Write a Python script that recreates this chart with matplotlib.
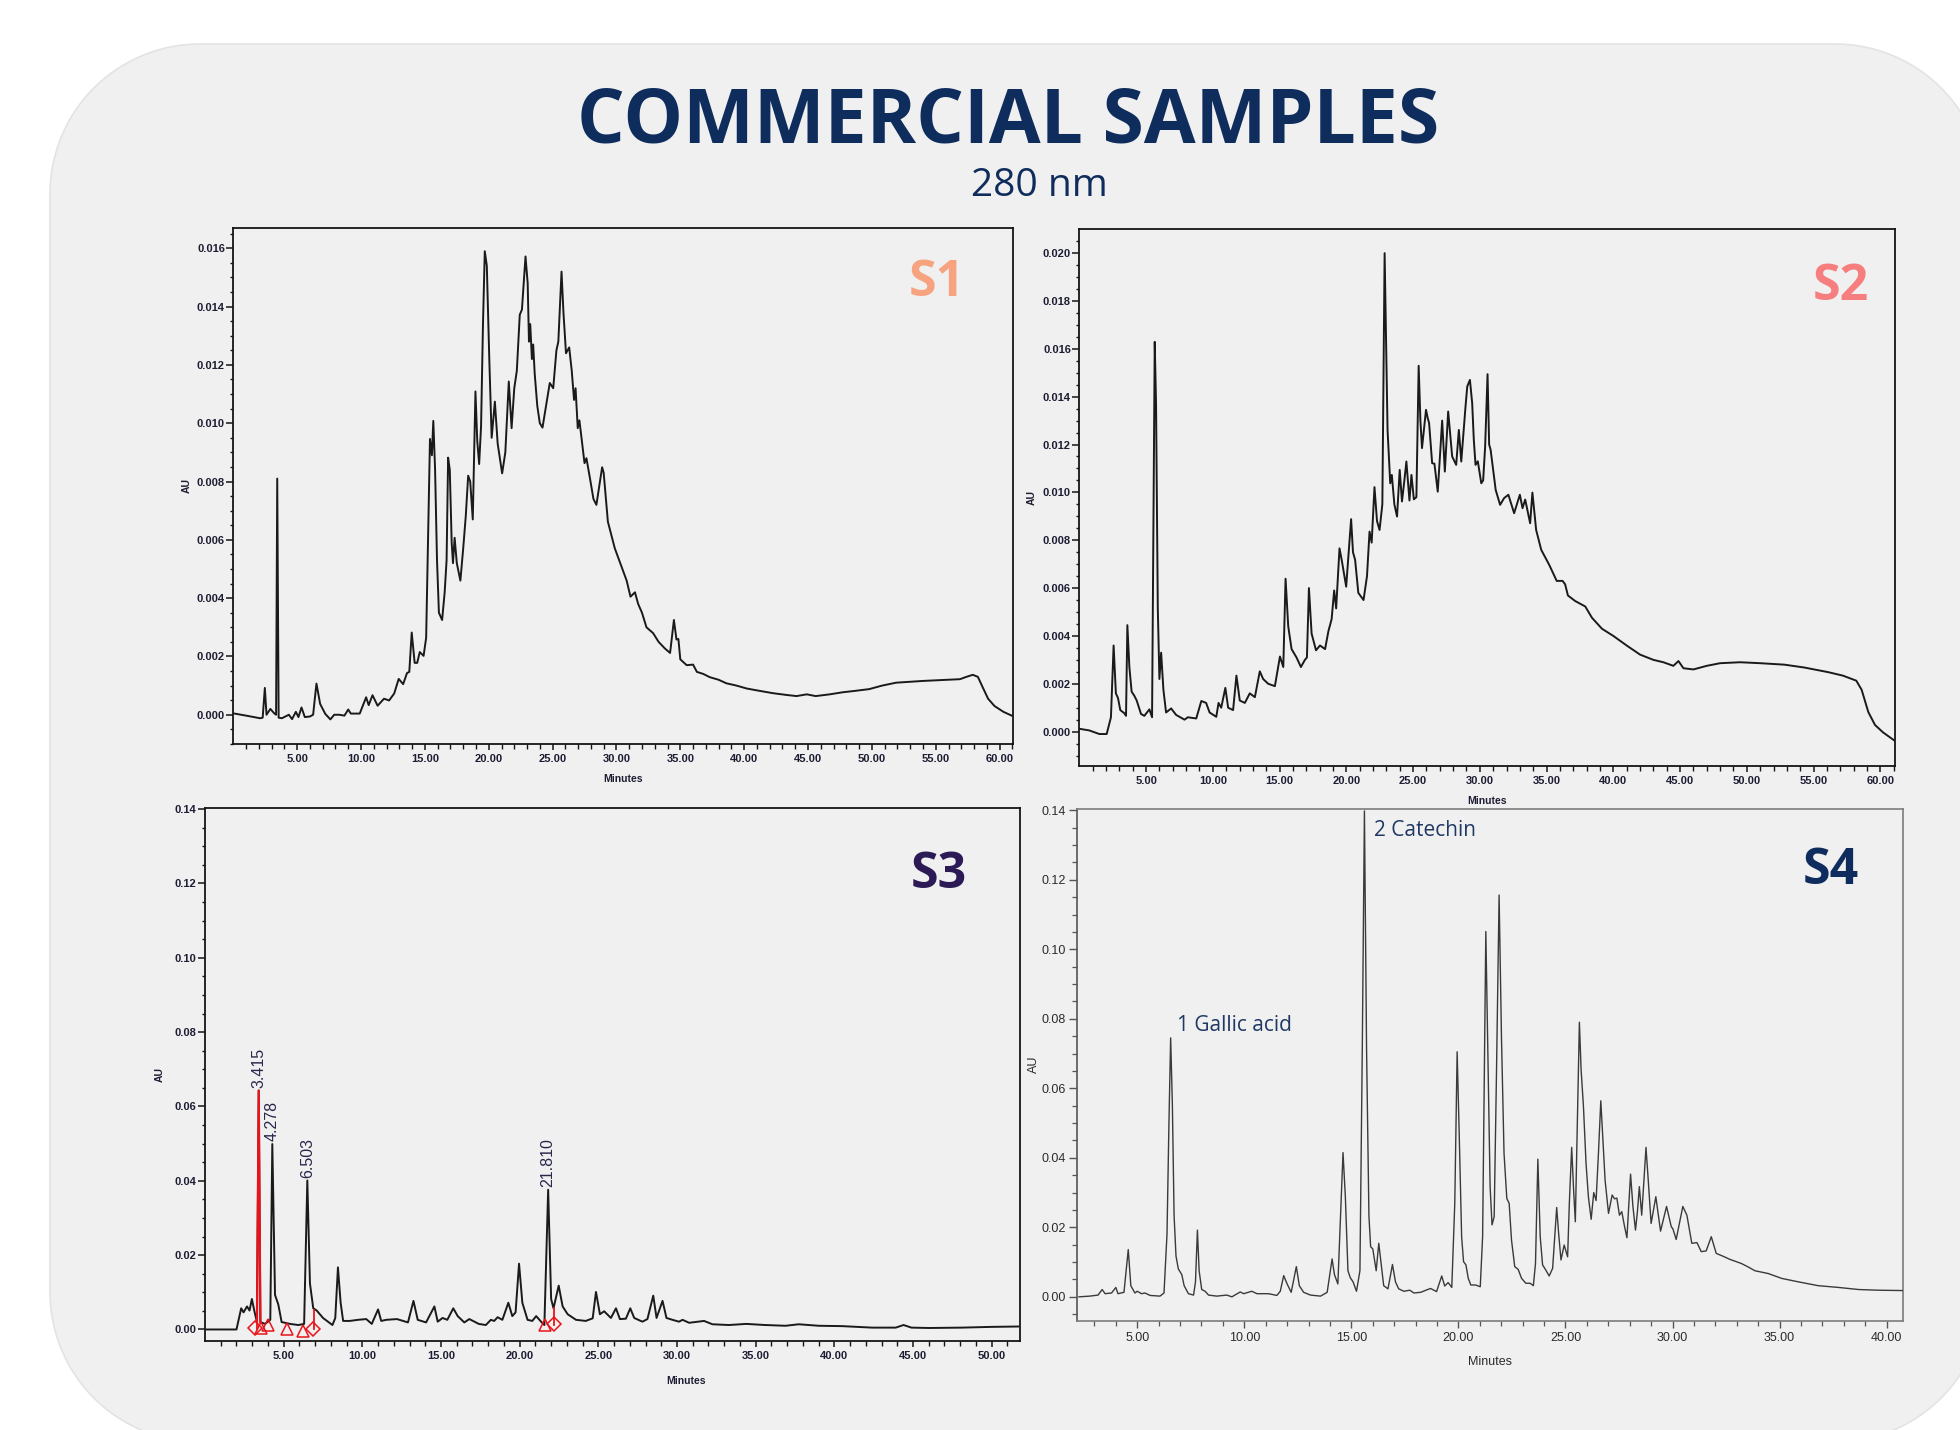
import numpy as np
import matplotlib
matplotlib.use("Agg")
import matplotlib.pyplot as plt
from matplotlib.path import Path
from matplotlib.patches import PathPatch
from matplotlib.ticker import FixedLocator, FormatStrFormatter

# ---------------- data ----------------
s1_time = [0.1, 1.0, 2.1, 2.3, 2.47, 2.6, 2.9, 3.2, 3.35, 3.44, 3.55, 3.8, 4.35, 4.6, 4.9, 5.1, 5.34, 5.6,
           6.0, 6.25, 6.51, 6.8, 7.2, 7.6, 7.9, 8.3, 8.7, 9.0, 9.2, 9.9, 10.4, 10.6, 10.9, 11.3, 11.8,
           12.2, 12.6, 12.95, 13.3, 13.6, 13.78, 13.97, 14.2, 14.4, 14.6, 14.9, 15.1, 15.3, 15.4, 15.55,
           15.66, 15.8, 15.95, 16.1, 16.35, 16.55, 16.7, 16.82, 16.95, 17.1, 17.2, 17.33, 17.5, 17.78,
           18.0, 18.2, 18.39, 18.55, 18.75, 18.96, 19.1, 19.25, 19.4, 19.55, 19.69, 19.85, 20.05, 20.23,
           20.48, 20.7, 21.05, 21.3, 21.57, 21.79, 22.0, 22.2, 22.43, 22.6, 22.88, 23.05, 23.15, 23.25,
           23.38, 23.48, 23.6, 23.8, 24.0, 24.21, 24.45, 24.78, 25.05, 25.3, 25.45, 25.7, 25.85, 26.05,
           26.3, 26.5, 26.68, 26.8, 26.97, 27.1, 27.5, 27.65, 27.95, 28.2, 28.43, 28.88, 29.0, 29.33,
           29.87, 30.3, 30.8, 31.1, 31.45, 31.7, 32.0, 32.35, 32.87, 33.3, 33.8, 34.2, 34.5, 34.7, 34.85,
           35.0, 35.5, 36.0, 36.3, 36.8, 37.3, 38.0, 38.6, 39.4, 40.2, 41.2, 42.25, 43.3, 44.1, 44.9,
           45.6, 46.7, 47.7, 48.7, 49.8, 50.8, 51.9, 53.0, 54.0, 55.0, 56.1, 56.9, 57.4, 57.9, 58.3,
           58.7, 59.1, 59.6, 60.3, 61.0]
s1_au = [0.00004, -0.00003, -0.00012, -0.0001, 0.00092, 0.0, 0.0002, 0.00005, 0.0, 0.0081, -0.0001,
         -0.00012, 0.0, -0.00015, 0.0001, -0.00008, 0.00025, -0.00008, -0.00006, 0.0, 0.00107, 0.00037,
         0.00003, -0.00016, 0.0, 0.0, -0.00003, 0.00018, 0.00004, 0.00004, 0.0006, 0.00033, 0.00067,
         0.00031, 0.00055, 0.00049, 0.00073, 0.00123, 0.00105, 0.00143, 0.00147, 0.00282, 0.00178,
         0.00178, 0.00215, 0.00202, 0.00264, 0.00717, 0.00946, 0.0089, 0.01008, 0.0084, 0.0053, 0.0035,
         0.00325, 0.0042, 0.0053, 0.00882, 0.0084, 0.0059, 0.0052, 0.00607, 0.0052, 0.0046, 0.0057,
         0.0068, 0.0082, 0.0080, 0.0067, 0.01109, 0.0094, 0.0086, 0.0099, 0.0134, 0.0159, 0.0154,
         0.0121, 0.0095, 0.01074, 0.0093, 0.00828, 0.0090, 0.01143, 0.00983, 0.0112, 0.0118, 0.01372,
         0.0139, 0.01572, 0.0148, 0.0128, 0.0134, 0.0122, 0.0127, 0.0117, 0.0106, 0.0100, 0.00985,
         0.0105, 0.01138, 0.0112, 0.0125, 0.0128, 0.0152, 0.0138, 0.0124, 0.0126, 0.0118, 0.0108,
         0.0112, 0.00983, 0.0101, 0.00863, 0.0088, 0.00805, 0.0074, 0.0072, 0.00849, 0.0083, 0.00662,
         0.00571, 0.0052, 0.0046, 0.00405, 0.0042, 0.0038, 0.0035, 0.0030, 0.0028, 0.0025, 0.00227,
         0.00212, 0.00325, 0.00258, 0.0026, 0.0019, 0.0017, 0.00172, 0.00147, 0.0014, 0.00129, 0.0012,
         0.00108, 0.0010, 0.0009, 0.00082, 0.00074, 0.00068, 0.00064, 0.0007, 0.00064, 0.0007, 0.00077,
         0.00082, 0.00088, 0.0010, 0.0011, 0.00113, 0.00116, 0.00118, 0.0012, 0.00122, 0.0013, 0.00137,
         0.0013, 0.00092, 0.00055, 0.0003, 0.0001, -0.00004]

s2_time = [0.0, 0.75, 1.5, 2.05, 2.37, 2.57, 2.74, 2.9, 3.07, 3.37, 3.5, 3.6, 3.75, 3.92, 4.12, 4.3, 4.62,
           4.87, 5.25, 5.45, 5.65, 5.75, 5.88, 6.0, 6.13, 6.3, 6.5, 6.88, 7.25, 7.88, 8.13, 8.76, 9.14,
           9.5, 9.76, 10.26, 10.43, 10.63, 10.94, 11.15, 11.52, 11.77, 12.02, 12.4, 12.77, 13.15, 13.52,
           13.77, 14.15, 14.65, 15.03, 15.28, 15.45, 15.65, 15.9, 16.27, 16.6, 16.9, 17.05, 17.2, 17.4,
           17.73, 18.03, 18.41, 18.66, 18.9, 19.09, 19.24, 19.49, 19.66, 19.99, 20.36, 20.5, 20.66, 20.9,
           21.29, 21.55, 21.74, 21.9, 22.11, 22.3, 22.49, 22.7, 22.87, 23.0, 23.09, 23.29, 23.41, 23.6,
           23.8, 24.0, 24.17, 24.35, 24.5, 24.73, 24.88, 25.06, 25.25, 25.42, 25.55, 25.67, 25.97, 26.1,
           26.2, 26.43, 26.6, 26.85, 27.18, 27.38, 27.63, 27.93, 28.23, 28.43, 28.61, 28.93, 29.06, 29.26,
           29.43, 29.55, 29.68, 29.85, 30.11, 30.25, 30.4, 30.58, 30.7, 30.81, 31.19, 31.52, 31.82, 32.14,
           32.57, 33.0, 33.2, 33.4, 33.77, 33.94, 34.22, 34.6, 35.2, 35.76, 36.2, 36.39, 36.6, 37.14, 37.9,
           38.4, 39.15, 40.0, 41.0, 42.0, 43.0, 43.75, 44.5, 44.88, 45.25, 46.0, 47.0, 48.0, 49.5, 51.0,
           52.8, 54.3, 56.06, 57.2, 58.2, 58.6, 59.1, 59.6, 60.2, 61.1]
s2_au = [0.00012, 0.00005, -0.0001, -0.0001, 0.0006, 0.0036, 0.0016, 0.0014, 0.0009, 0.00077, 0.00066,
         0.00445, 0.0027, 0.00167, 0.0015, 0.0013, 0.00074, 0.00066, 0.00093, 0.0006, 0.01629, 0.01366,
         0.00515, 0.0022, 0.0033, 0.00175, 0.0008, 0.00097, 0.0007, 0.0005, 0.0006, 0.00055, 0.00128,
         0.0012, 0.0008, 0.00062, 0.0012, 0.0010, 0.00183, 0.0010, 0.0009, 0.00234, 0.0013, 0.0012,
         0.0016, 0.00144, 0.00252, 0.0022, 0.0020, 0.0019, 0.00314, 0.0027, 0.00639, 0.0044, 0.00345,
         0.0031, 0.0027, 0.0030, 0.0031, 0.0060, 0.0041, 0.0034, 0.0036, 0.00345, 0.0042, 0.0047,
         0.0059, 0.00515, 0.00766, 0.00716, 0.00606, 0.00888, 0.0075, 0.00718, 0.0058, 0.0055, 0.0065,
         0.00836, 0.0079, 0.01022, 0.0088, 0.00843, 0.0095, 0.0200, 0.0155, 0.0126, 0.01038, 0.01073,
         0.0095, 0.00899, 0.01094, 0.00962, 0.0105, 0.01129, 0.00966, 0.01073, 0.00971, 0.0098, 0.01529,
         0.0130, 0.01185, 0.01345, 0.0131, 0.0129, 0.01122, 0.0112, 0.01003, 0.0130, 0.01087, 0.01338,
         0.0115, 0.01115, 0.01261, 0.01129, 0.01359, 0.01443, 0.0147, 0.01372, 0.0122, 0.01115, 0.0113,
         0.01038, 0.0105, 0.01192, 0.01494, 0.0120, 0.01178, 0.0101, 0.00948, 0.00976, 0.0099, 0.00913,
         0.0099, 0.00934, 0.0097, 0.00871, 0.00999, 0.00843, 0.0076, 0.00697, 0.0063, 0.0063, 0.00616,
         0.00569, 0.00546, 0.00523, 0.00476, 0.0043, 0.0040, 0.0036, 0.00322, 0.0030, 0.0029, 0.00275,
         0.00295, 0.00265, 0.0026, 0.00275, 0.00286, 0.0029, 0.00286, 0.0028, 0.00268, 0.00249, 0.00234,
         0.00213, 0.00175, 0.00082, 0.00028, -0.00003, -0.00039]

s3_time = [0.09, 2.0, 2.3, 2.45, 2.67, 2.83, 2.98, 3.13, 3.3, 3.415, 3.52, 3.82, 4.15, 4.278, 4.45, 4.66,
           4.87, 5.4, 5.93, 6.3, 6.503, 6.67, 6.88, 7.1, 7.5, 8.1, 8.28, 8.45, 8.62, 8.78, 9.2, 9.73,
           10.25, 10.6, 11.0, 11.2, 11.52, 12.2, 12.9, 13.25, 13.52, 14.05, 14.58, 14.79, 15.1, 15.4,
           15.78, 16.06, 16.48, 16.8, 17.4, 17.85, 18.17, 18.38, 18.6, 18.9, 19.28, 19.53, 19.74, 19.96,
           20.17, 20.5, 20.8, 21.05, 21.36, 21.57, 21.81, 22.0, 22.15, 22.48, 22.73, 23.05, 23.58, 24.2,
           24.64, 24.85, 25.1, 25.37, 25.8, 26.12, 26.37, 26.75, 27.03, 27.28, 27.8, 28.12, 28.49, 28.7,
           29.08, 29.33, 29.71, 30.13, 30.35, 30.77, 31.72, 32.25, 33.3, 34.4, 35.6, 36.9, 37.74, 39.0,
           40.5, 42.4, 43.9, 44.4, 44.9, 46.0, 48.1, 50.0, 51.7]
s3_au = [0.0, 0.0, 0.0057, 0.0046, 0.0062, 0.0051, 0.0082, 0.0051, 0.0020, 0.0643, 0.0020, 0.0015,
         0.0026, 0.0499, 0.0093, 0.0067, 0.0020, 0.0015, 0.0012, 0.0015, 0.0401, 0.0124, 0.0057, 0.0051,
         0.0031, 0.0012, 0.0031, 0.0167, 0.0072, 0.0023, 0.0023, 0.0026, 0.0028, 0.0015, 0.0054, 0.0023,
         0.0026, 0.0028, 0.0019, 0.0077, 0.0026, 0.0019, 0.0062, 0.0021, 0.0031, 0.0026, 0.0057, 0.0036,
         0.0019, 0.0028, 0.0015, 0.0012, 0.0026, 0.0023, 0.0033, 0.0026, 0.0072, 0.0036, 0.0046, 0.0177,
         0.0072, 0.0026, 0.0023, 0.0036, 0.0021, 0.0012, 0.0376, 0.0082, 0.0057, 0.0118, 0.0062, 0.0041,
         0.0026, 0.0023, 0.0030, 0.0101, 0.0041, 0.0049, 0.0031, 0.0057, 0.0028, 0.0029, 0.0057, 0.0031,
         0.0021, 0.0028, 0.0091, 0.0031, 0.0077, 0.0031, 0.0026, 0.0021, 0.0026, 0.0018, 0.0023, 0.0014,
         0.0012, 0.0015, 0.0012, 0.0010, 0.0014, 0.0010, 0.0009, 0.0005, 0.0005, 0.0012, 0.0005, 0.0004,
         0.0005, 0.0007, 0.0008]
# labelled (integrated) peaks of S3
s3_peak_rt = [3.415, 4.278, 6.503, 21.810]
s3_peak_au = [0.0643, 0.0499, 0.0401, 0.0376]
# integration event markers of S3 (time, AU, marker)
s3_mark_time = [3.15, 3.55, 3.98, 5.20, 6.21, 6.89, 21.58, 22.17]
s3_mark_au = [0.0003, 0.0003, 0.0012, 0.0000, -0.0005, 0.0000, 0.0012, 0.0015]
s3_mark_kind = ["D", "^", "^", "^", "^", "D", "^", "D"]
s3_drop_time = [3.30, 6.90, 22.20]
s3_drop_low = [0.0000, 0.0000, 0.0012]
s3_drop_high = [0.0090, 0.0052, 0.0057]

s4_time = [2.28, 2.78, 3.17, 3.36, 3.5, 3.8, 4.0, 4.1, 4.38, 4.58, 4.7, 4.89, 5.0, 5.2, 5.36, 5.6, 6.06,
           6.25, 6.39, 6.48, 6.56, 6.64, 6.72, 6.81, 6.92, 7.08, 7.19, 7.39, 7.63, 7.72, 7.81, 7.89, 8.01,
           8.17, 8.33, 8.71, 9.18, 9.42, 9.81, 9.97, 10.35, 10.59, 11.13, 11.52, 11.68, 11.84, 12.0, 12.19,
           12.43, 12.57, 12.77, 13.09, 13.56, 13.87, 14.1, 14.21, 14.37, 14.61, 14.72, 14.84, 14.95, 15.08,
           15.24, 15.4, 15.51, 15.61, 15.71, 15.82, 15.9, 16.0, 16.16, 16.28, 16.39, 16.51, 16.71, 16.92,
           17.06, 17.21, 17.45, 17.73, 17.92, 18.24, 18.48, 18.7, 18.98, 19.22, 19.36, 19.52, 19.69, 19.83,
           19.94, 20.04, 20.15, 20.24, 20.35, 20.46, 20.58, 20.8, 21.02, 21.13, 21.28, 21.39, 21.48, 21.57,
           21.67, 21.78, 21.9, 22.01, 22.13, 22.26, 22.37, 22.48, 22.63, 22.79, 22.95, 23.15, 23.35, 23.5,
           23.6, 23.71, 23.82, 23.93, 24.08, 24.24, 24.4, 24.59, 24.68, 24.79, 24.94, 25.1, 25.18, 25.29,
           25.38, 25.46, 25.54, 25.65, 25.73, 25.84, 25.96, 26.07, 26.2, 26.32, 26.43, 26.54, 26.65, 26.74,
           26.85, 27.01, 27.18, 27.29, 27.4, 27.52, 27.63, 27.76, 27.87, 27.96, 28.04, 28.15, 28.27, 28.36,
           28.45, 28.56, 28.66, 28.76, 28.85, 29.0, 29.22, 29.44, 29.72, 29.94, 30.02, 30.17, 30.48, 30.67,
           30.9, 31.14, 31.34, 31.57, 31.81, 32.04, 32.35, 32.67, 32.98, 33.21, 33.5, 33.85, 34.47, 35.1,
           35.88, 36.81, 37.75, 38.69, 39.62, 40.79]
s4_au = [0.0, 0.0002, 0.0005, 0.0021, 0.0009, 0.0011, 0.0027, 0.0009, 0.0013, 0.0136, 0.0032, 0.0011,
         0.0016, 0.0009, 0.0011, 0.0004, 0.0002, 0.0011, 0.0181, 0.0500, 0.0745, 0.0554, 0.0234, 0.0117,
         0.0080, 0.0064, 0.0032, 0.0009, 0.0005, 0.0043, 0.0192, 0.0075, 0.0021, 0.0016, 0.0005, 0.0002,
         0.0005, 0.0, 0.0014, 0.0009, 0.0016, 0.0009, 0.0009, 0.0004, 0.0016, 0.0061, 0.0037, 0.0013,
         0.0087, 0.0032, 0.0013, 0.0005, 0.0002, 0.0013, 0.0109, 0.0064, 0.0037, 0.0415, 0.0287, 0.0075,
         0.0055, 0.0043, 0.0016, 0.0075, 0.0713, 0.1398, 0.0713, 0.0234, 0.0144, 0.0138, 0.0075, 0.0154,
         0.0096, 0.0032, 0.0023, 0.0093, 0.0043, 0.0023, 0.0016, 0.0019, 0.0011, 0.0013, 0.0019, 0.0024,
         0.0015, 0.0060, 0.0031, 0.0041, 0.0027, 0.0269, 0.0705, 0.0461, 0.0173, 0.0101, 0.0092, 0.0053,
         0.0034, 0.0034, 0.0029, 0.0173, 0.1051, 0.0653, 0.0317, 0.0207, 0.0231, 0.0653, 0.1156, 0.0749,
         0.0413, 0.0283, 0.0269, 0.0163, 0.0087, 0.0079, 0.0053, 0.0039, 0.0039, 0.0032, 0.0096, 0.0396,
         0.0173, 0.0092, 0.0077, 0.0060, 0.0082, 0.0257, 0.0183, 0.0106, 0.0149, 0.0115, 0.0269, 0.0430,
         0.0307, 0.0216, 0.0461, 0.0790, 0.0653, 0.0547, 0.0384, 0.0288, 0.0223, 0.0300, 0.0277, 0.0413,
         0.0564, 0.0461, 0.0336, 0.0240, 0.0293, 0.0282, 0.0284, 0.0235, 0.0245, 0.0202, 0.0170, 0.0269,
         0.0353, 0.0260, 0.0192, 0.0245, 0.0317, 0.0235, 0.0330, 0.0430, 0.0350, 0.0211, 0.0288, 0.0189,
         0.0260, 0.0202, 0.0195, 0.0165, 0.0260, 0.0235, 0.0154, 0.0156, 0.0130, 0.0132, 0.0173, 0.0125,
         0.0117, 0.0108, 0.0101, 0.0096, 0.0087, 0.0075, 0.0067, 0.0053, 0.0043, 0.0032, 0.0027, 0.0021,
         0.0019, 0.0018]
s4_names = ["1 Gallic acid", "2 Catechin"]
s4_name_rt = [6.56, 15.61]
s4_name_au = [0.0745, 0.1398]

panel_names = ["S1", "S2", "S3", "S4"]
panel_colors = ["#F8A380", "#F77E7E", "#2C1A56", "#0E2D5E"]
title_text = "COMMERCIAL SAMPLES"
subtitle_text = "280 nm"

# ---------------- figure ----------------
W, H = 1960, 1430
fig = plt.figure(figsize=(W / 100, H / 100), dpi=100)
fig.patch.set_facecolor("white")


def rounded_panel(x0, y0, x1, y1, r, n=40):
    pts = []
    corners = [((x1 - r, y0 + r), -90, 0), ((x1 - r, y1 - r), 0, 90),
               ((x0 + r, y1 - r), 90, 180), ((x0 + r, y0 + r), 180, 270)]
    for (cx, cy), a0, a1 in corners:
        a = np.radians(np.linspace(a0, a1, n))
        for ai in a:
            pts.append((cx + r * np.cos(ai), cy + r * np.sin(ai)))
    pts.append(pts[0])
    pts = [(px / W, 1 - py / H) for px, py in pts]
    codes = [Path.MOVETO] + [Path.LINETO] * (len(pts) - 2) + [Path.CLOSEPOLY]
    return Path(pts, codes)


bg = PathPatch(rounded_panel(50, 44, 1985, 1442, 150), transform=fig.transFigure,
               facecolor="#f0f0f0", edgecolor="#e3e3e3", lw=1.2, zorder=-10)
fig.add_artist(bg)

NAVY = "#0F2D5C"
fig.text(1008 / W, 1 - 123 / H, title_text, ha="center", va="center", fontsize=54,
         fontweight="bold", family=["Open Sans", "DejaVu Sans"], color=NAVY)
fig.text(1039 / W, 1 - 186 / H, subtitle_text, ha="center", va="center", fontsize=28,
         family=["Open Sans", "DejaVu Sans"], color=NAVY)


def add_axes(box):
    x0, y0, x1, y1 = box
    ax = fig.add_axes([x0 / W, 1 - y1 / H, (x1 - x0) / W, (y1 - y0) / H])
    ax.set_zorder(2)
    return ax


TF = ["Liberation Sans", "DejaVu Sans"]


def style_empower(ax, xlim, ylim, xmax_major, ymajor_list, yminor_list, yfmt):
    ax.set_facecolor("none")
    ax.set_xlim(*xlim)
    ax.set_ylim(*ylim)
    for sp in ax.spines.values():
        sp.set_linewidth(1.3)
        sp.set_color("#151515")
    majors = list(range(5, xmax_major + 1, 5))
    minors = [m for m in range(1, int(xlim[1]) + 1) if m % 5]
    ax.xaxis.set_major_locator(FixedLocator(majors))
    ax.xaxis.set_minor_locator(FixedLocator(minors))
    ax.yaxis.set_major_locator(FixedLocator(ymajor_list))
    ax.yaxis.set_minor_locator(FixedLocator(yminor_list))
    ax.xaxis.set_major_formatter(FormatStrFormatter("%.2f"))
    ax.yaxis.set_major_formatter(FormatStrFormatter(yfmt))
    ax.tick_params(axis="x", which="major", direction="out", length=4.5, width=1.1,
                   color="#151515", pad=3, labelsize=8, labelcolor="#1d1d33")
    ax.tick_params(axis="x", which="minor", direction="out", length=3.5, width=1.0, color="#151515")
    ax.tick_params(axis="y", which="major", direction="out", length=5, width=1.1,
                   color="#151515", pad=1, labelsize=8, labelcolor="#1d1d33")
    ax.tick_params(axis="y", which="minor", direction="out", length=2.5, width=1.0, color="#151515")
    for lab in ax.get_xticklabels() + ax.get_yticklabels():
        lab.set_family(TF)
        lab.set_fontweight("bold")
    ax.set_xlabel("Minutes", fontsize=7.5, family=TF, color="#1d1d33", fontweight="bold")
    ax.set_ylabel("AU", fontsize=7.5, family=TF, color="#1d1d33", fontweight="bold")


def frange(a, b, s):
    n = int(round((b - a) / s))
    return [round(a + i * s, 6) for i in range(n + 1)]


# ---- S1 ----
ax1 = add_axes((233.3, 227.9, 1013, 743.9))
ax1.plot(s1_time, s1_au, color="#1a1a1a", lw=1.4, zorder=3)
style_empower(ax1, (0, 61.05), (-0.001, 0.0167), 60, frange(0, 0.016, 0.002),
              frange(-0.001, 0.0165, 0.0005), "%.3f")
ax1.xaxis.set_label_coords(0.5, -0.058)
ax1.yaxis.set_label_coords(-0.053, 0.5)

# ---- S2 ----
ax2 = add_axes((1079.3, 229.2, 1895, 765.6))
ax2.plot(s2_time, s2_au, color="#1a1a1a", lw=1.4, zorder=3)
style_empower(ax2, (0, 61.1), (-0.00142, 0.0210), 60, frange(0, 0.020, 0.002),
              frange(-0.001, 0.0205, 0.0005), "%.3f")
ax2.xaxis.set_label_coords(0.5, -0.056)
ax2.yaxis.set_label_coords(-0.052, 0.5)

# ---- S3 ----
ax3 = add_axes((205, 808.4, 1020, 1341))
ax3.plot(s3_time, s3_au, color="#1a1a1a", lw=1.4, zorder=3)
t3 = np.array(s3_time)
a3 = np.array(s3_au)
red = (t3 >= 3.3) & (t3 <= 3.52)
ax3.plot(t3[red], a3[red], color="#e8141b", lw=1.6, zorder=4)
for tt, lo, hi in zip(s3_drop_time, s3_drop_low, s3_drop_high):
    ax3.plot([tt, tt], [lo, hi], color="#e8141b", lw=1.3, zorder=4)
for tt, aa, mk in zip(s3_mark_time, s3_mark_au, s3_mark_kind):
    ax3.plot([tt], [aa], marker=mk, ms=8 if mk == "^" else 7, mfc="none", mec="#e8141b",
             mew=1.1, zorder=5)
for rt, au in zip(s3_peak_rt, s3_peak_au):
    ax3.annotate(f"{rt:.3f}", (rt, au), xytext=(0, 2), textcoords="offset points",
                 rotation=90, ha="center", va="bottom", fontsize=11.5, family=TF,
                 color="#27284a")
style_empower(ax3, (0, 51.8), (-0.0031, 0.1402), 50, frange(0, 0.14, 0.02),
              frange(0, 0.14, 0.005), "%.2f")
ax3.xaxis.set_label_coords(0.59, -0.065)
ax3.yaxis.set_label_coords(-0.049, 0.5)

# ---- S4 ----
ax4 = add_axes((1077.3, 808.5, 1902.7, 1320.8))
ax4.set_facecolor("none")
ax4.plot(s4_time, s4_au, color="#3a3a3a", lw=1.0, zorder=3)
ax4.set_xlim(2.2, 40.75)
ax4.set_ylim(-0.0069, 0.1405)
for sp in ax4.spines.values():
    sp.set_linewidth(1.2)
    sp.set_color("#7c7c7c")
ax4.spines["left"].set_color("#555555")
ax4.xaxis.set_major_locator(FixedLocator(list(range(5, 41, 5))))
ax4.xaxis.set_minor_locator(FixedLocator([m for m in range(3, 41) if m % 5]))
ax4.yaxis.set_major_locator(FixedLocator(frange(0, 0.14, 0.02)))
ax4.yaxis.set_minor_locator(FixedLocator(frange(-0.005, 0.14, 0.005)))
ax4.xaxis.set_major_formatter(FormatStrFormatter("%.2f"))
ax4.yaxis.set_major_formatter(FormatStrFormatter("%.2f"))
ax4.tick_params(axis="both", which="major", direction="out", length=5, width=1.0,
                color="#555555", labelsize=9, labelcolor="#2b2b2b", pad=3)
ax4.tick_params(axis="both", which="minor", direction="out", length=3.5, width=0.9,
                color="#555555")
ax4.tick_params(axis="y", which="major", length=6, pad=2)
for lab in ax4.get_xticklabels() + ax4.get_yticklabels():
    lab.set_family(TF)
ax4.set_xlabel("Minutes", fontsize=9, family=TF, color="#2b2b2b")
ax4.set_ylabel("AU", fontsize=9, family=TF, color="#2b2b2b")
ax4.xaxis.set_label_coords(0.5, -0.068)
ax4.yaxis.set_label_coords(-0.045, 0.5)
for name, rt, au, off in zip(s4_names, s4_name_rt, s4_name_au, [(4.5, 9.0), (7.0, -14.0)]):
    ax4.annotate(name, (rt, au), xytext=off, textcoords="offset points", ha="left",
                 va="center", fontsize=15, family=["Open Sans", "DejaVu Sans"], color="#1F3864")

# ---- panel names ----
for ax, name, col, (px, py) in zip([ax1, ax2, ax3, ax4], panel_names, panel_colors,
                                   [(937, 283), (1841, 287), (939, 875), (1831, 871)]):
    fig.text(px / W, 1 - py / H, name, ha="center", va="center", fontsize=36,
             fontweight="bold", family=["Open Sans", "DejaVu Sans"], color=col, zorder=5)

fig.savefig("out.png", dpi=100, facecolor="white")
